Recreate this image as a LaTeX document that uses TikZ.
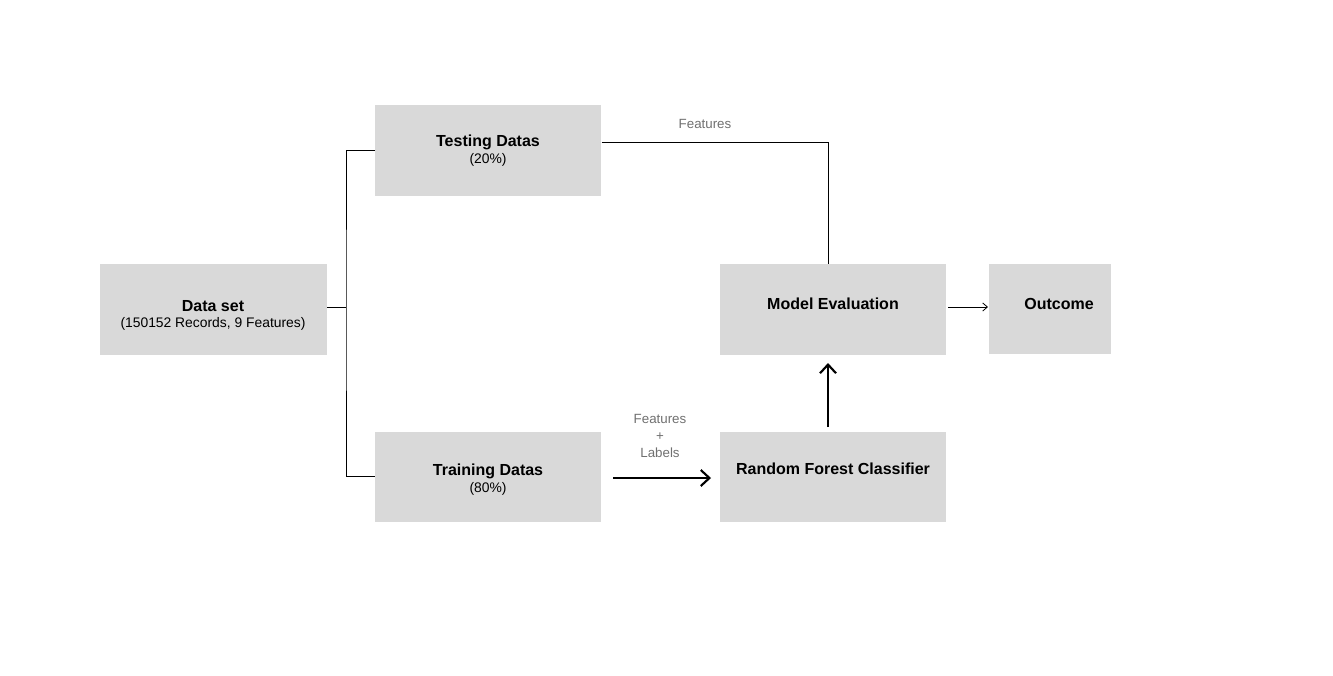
\documentclass[tikz,border=0pt]{standalone}
\usepackage{fontspec}
\setmainfont{Liberation Sans}
\usetikzlibrary{arrows.meta}
\definecolor{boxgray}{HTML}{D9D9D9}
\definecolor{lblgray}{HTML}{707070}
\tikzset{
  box/.style={fill=boxgray, draw=none, inner sep=0pt, anchor=north west},
  title/.style={font=\fontsize{12}{14}\selectfont\bfseries, align=center, inner sep=0pt},
  sub/.style={font=\fontsize{10.4}{13.5}\selectfont, align=center, inner sep=0pt},
  lbl/.style={font=\fontsize{10}{12.5}\selectfont, text=lblgray, align=center, inner sep=0pt},
  thin/.style={draw=black, line width=0.75pt},
  thick/.style={draw=black, line width=1.6pt, -{Straight Barb[length=6.5pt,width=12pt,line width=1.6pt]}},
  small/.style={draw=black, line width=0.6pt, -{Straight Barb[length=3.5pt,width=6pt,line width=0.6pt]}}
}
\begin{document}
\begin{tikzpicture}[x=0.75pt,y=-0.75pt]
\useasboundingbox (0,0) rectangle (1333,675);
% boxes
\node[box, minimum width=170.25pt, minimum height=68.25pt] (ds) at (100,264) {};
\node[box, minimum width=169.5pt, minimum height=68.25pt] (te) at (375,105) {};
\node[box, minimum width=169.5pt, minimum height=67.5pt] (tr) at (375,432) {};
\node[box, minimum width=169.5pt, minimum height=68.25pt] (me) at (720,264) {};
\node[box, minimum width=169.5pt, minimum height=67.5pt] (rf) at (720,432) {};
\node[box, minimum width=91.5pt, minimum height=67.5pt] (oc) at (989,264) {};
% texts
\node[title] (dst) at (213,306) {Data set};
\node[sub] (dss) at (213,324) {(150152 Records, 9 Features)};
\node[title] (tet) at (488,142) {Testing Datas};
\node[sub] (tes) at (488,160) {(20\%)};
\node[title] (trt) at (488,471) {Training Datas};
\node[sub] (trs) at (488,489) {(80\%)};
\node[title] (met) at (833,304) {Model Evaluation};
\node[title] (rft) at (833,469) {Random Forest Classifier};
\node[title] (oct) at (1059,304) {Outcome};
% connectors
\coordinate (dsr) at (327,307);
\coordinate (jn) at (346,307);
\draw[thin] (dsr) -- (jn);
\draw[thin] (te.west |- 0,150) -| (jn) |- (tr.west |- 0,476);
\draw[thin] (te.east |- 0,142) -| (me.north -| 828,0);
\node[lbl] (lf1) at (705,124) {Features};
\coordinate (a1s) at (613,478);
\coordinate (a1e) at (711,478);
\draw[thick] (a1s) -- (a1e);
\node[lbl, font=\fontsize{10}{12.4}\selectfont] (lf2) at (660,436) {Features\\+\\Labels};
\coordinate (a2s) at (828,427);
\coordinate (a2e) at (828,363);
\draw[thick] (a2s) -- (a2e);
\coordinate (a3s) at (948,307);
\coordinate (a3e) at (988,307);
\draw[small] (a3s) -- (a3e);
\end{tikzpicture}
\end{document}
